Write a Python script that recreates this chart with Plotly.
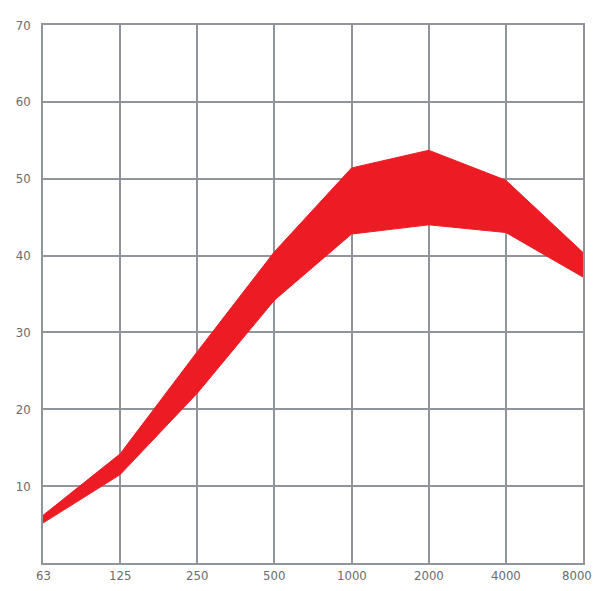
import plotly.graph_objects as go

freq_labels = ["63", "125", "250", "500", "1000", "2000", "4000", "8000"]
upper_db = [6.2, 14.2, 27.5, 40.5, 51.4, 53.7, 49.8, 40.4]
lower_db = [5.2, 11.5, 22.1, 34.2, 42.8, 44.0, 43.0, 37.2]
y_ticks = [10, 20, 30, 40, 50, 60, 70]

x_pos = list(range(len(freq_labels)))
red = "#ED1C24"

fig = go.Figure()
fig.add_trace(go.Scatter(x=x_pos, y=lower_db, mode="lines",
                         line=dict(color=red, width=1), showlegend=False,
                         hoverinfo="skip"))
fig.add_trace(go.Scatter(x=x_pos, y=upper_db, mode="lines",
                         line=dict(color=red, width=1), fill="tonexty",
                         fillcolor=red, showlegend=False))

font = dict(family="DejaVu Sans Condensed, Liberation Sans Narrow, sans-serif",
            size=13, color="#6b6b6b")
grid = "#8f959a"

# x-axis labels as annotations so the last one stays inside the page
for i, lab in enumerate(freq_labels):
    last = i == len(freq_labels) - 1
    fig.add_annotation(x=x_pos[i], y=0, xref="x", yref="paper",
                       text=lab, showarrow=False, font=font,
                       xanchor="right" if last else "center",
                       xshift=11 if last else 0,
                       yanchor="top", yshift=-3)

fig.update_layout(
    width=595, height=575,
    margin=dict(l=35, r=20, t=17, b=20, autoexpand=False),
    paper_bgcolor="white", plot_bgcolor="white",
    font=font,
    xaxis=dict(range=[0, 7], tickvals=x_pos, showticklabels=False,
               showgrid=True, gridcolor=grid, gridwidth=1.5,
               showline=True, linecolor=grid, linewidth=1.5, mirror=True,
               zeroline=False, ticks="", automargin=False),
    yaxis=dict(range=[0, 70], tickvals=y_ticks,
               showgrid=True, gridcolor=grid, gridwidth=1.5,
               showline=True, linecolor=grid, linewidth=1.5, mirror=True,
               zeroline=False, ticks="", tickfont=font,
               automargin=False, ticklabelstandoff=8),
)

fig.write_html("out.html")
